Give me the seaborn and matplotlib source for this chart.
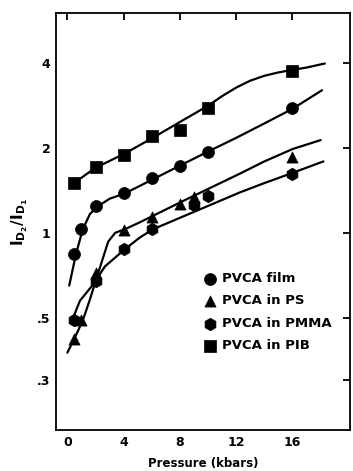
import matplotlib
matplotlib.use("Agg")
import matplotlib.pyplot as plt
import seaborn as sns
import pandas as pd
from matplotlib.ticker import FixedLocator, FixedFormatter, NullLocator

# Measured points: pressure (kbar) and intensity ratio I_D2/I_D1
film_p = [0.5, 1, 2, 4, 6, 8, 10, 16]
film_r = [0.84, 1.03, 1.24, 1.38, 1.56, 1.73, 1.93, 2.77]

ps_p = [0.5, 1, 2, 4, 6, 8, 9, 16]
ps_r = [0.42, 0.49, 0.72, 1.02, 1.14, 1.26, 1.34, 1.86]

pmma_p = [0.5, 2, 4, 6, 9, 10, 16]
pmma_r = [0.49, 0.675, 0.875, 1.03, 1.25, 1.35, 1.62]

pib_p = [0.5, 2, 4, 6, 8, 10, 16]
pib_r = [1.50, 1.71, 1.89, 2.20, 2.32, 2.77, 3.73]

# Hand-drawn trend curves through each series
film_curve_p = [0.13, 0.6, 1.08, 1.6, 2.15, 3.0, 4.1, 6, 8, 10, 12, 14, 16, 18.1]
film_curve_r = [0.65, 0.835, 1.025, 1.165, 1.24, 1.32, 1.38, 1.54, 1.73, 1.94, 2.17, 2.44, 2.75, 3.2]

ps_curve_p = [0.0, 0.53, 1.1, 1.6, 2.07, 2.43, 2.9, 3.4, 4.1, 5.16, 6, 8, 10, 12.26, 14, 16, 18]
ps_curve_r = [0.376, 0.425, 0.49, 0.58, 0.69, 0.785, 0.93, 1.0, 1.03, 1.09, 1.143, 1.28, 1.43, 1.62, 1.79, 1.98, 2.13]

pmma_curve_p = [0.41, 0.89, 1.84, 2.67, 4.09, 5.15, 6.1, 8, 10, 12.26, 14, 16, 18.2]
pmma_curve_r = [0.50, 0.574, 0.657, 0.76, 0.875, 0.962, 1.03, 1.13, 1.245, 1.39, 1.50, 1.63, 1.79]

pib_curve_p = [0.3, 2, 4, 6, 8, 10, 11, 12, 13, 14, 15, 16, 17, 18.3]
pib_curve_r = [1.48, 1.70, 1.90, 2.16, 2.47, 2.82, 3.05, 3.27, 3.46, 3.60, 3.70, 3.78, 3.85, 3.98]

labels = ["PVCA film", "PVCA in PS", "PVCA in PMMA", "PVCA in PIB"]
x_ticks = [0, 4, 8, 12, 16]
y_ticks = [0.3, 0.5, 1, 2, 4]
y_tick_labels = [".3", ".5", "1", "2", "4"]

sns.set_theme(style="white")
plt.rcParams["font.family"] = ["DejaVu Sans"]
plt.rcParams["font.weight"] = "bold"
plt.rcParams["text.color"] = "black"
plt.rcParams["axes.labelcolor"] = "black"
plt.rcParams["xtick.color"] = "black"
plt.rcParams["ytick.color"] = "black"
plt.rcParams["mathtext.fontset"] = "custom"
plt.rcParams["mathtext.bf"] = "DejaVu Sans:bold"
plt.rcParams["mathtext.rm"] = "DejaVu Sans:bold"
plt.rcParams["mathtext.default"] = "bf"

fig = plt.figure(figsize=(3.53, 4.71), dpi=100)
ax = fig.add_axes([0.159, 0.087, 0.833, 0.885])

curves = [
    (film_curve_p, film_curve_r),
    (ps_curve_p, ps_curve_r),
    (pmma_curve_p, pmma_curve_r),
    (pib_curve_p, pib_curve_r),
]
for cp, cr in curves:
    sns.lineplot(x=cp, y=cr, ax=ax, color="black", linewidth=1.6,
                 estimator=None, sort=False, legend=False)

series = [
    (film_p, film_r, "o", 8.6),
    (ps_p, ps_r, "^", 8.0),
    (pmma_p, pmma_r, "h", 9.0),
    (pib_p, pib_r, "s", 8.0),
]
for (px, pr, mk, ms), lab in zip(series, labels):
    df = pd.DataFrame({"p": px, "r": pr})
    sns.scatterplot(data=df, x="p", y="r", ax=ax, marker=mk, s=ms ** 2,
                    color="black", edgecolor="black", linewidth=0.5,
                    label=lab, zorder=3)

ax.set_yscale("log")
ax.set_xlim(-0.8, 20.1)
ax.set_ylim(0.2, 6.0)

ax.xaxis.set_major_locator(FixedLocator(x_ticks))
ax.yaxis.set_major_locator(FixedLocator(y_ticks))
ax.yaxis.set_major_formatter(FixedFormatter(y_tick_labels))
ax.yaxis.set_minor_locator(NullLocator())
ax.xaxis.set_minor_locator(NullLocator())

ax.tick_params(axis="both", which="major", direction="in", length=5, width=1.3,
               top=True, right=True, labelsize=9, pad=4, colors="black")
for lbl in ax.get_xticklabels() + ax.get_yticklabels():
    lbl.set_fontweight("bold")

for sp in ax.spines.values():
    sp.set_visible(True)
    sp.set_color("black")
    sp.set_linewidth(1.3)

ax.set_xlabel("Pressure (kbars)", fontsize=8.5, fontweight="bold", labelpad=6)
ax.set_ylabel(r"$I_{D_2}/I_{D_1}$", fontsize=11, labelpad=5)

ax.legend(loc="upper left", bbox_to_anchor=(0.475, 0.395), frameon=False,
          handletextpad=0.4, labelspacing=0.72,
          borderpad=0.0, handlelength=1.1, markerscale=1.0,
          labelcolor="black", prop={"weight": "bold", "size": 9.5})

fig.savefig("out.png", dpi=100)
